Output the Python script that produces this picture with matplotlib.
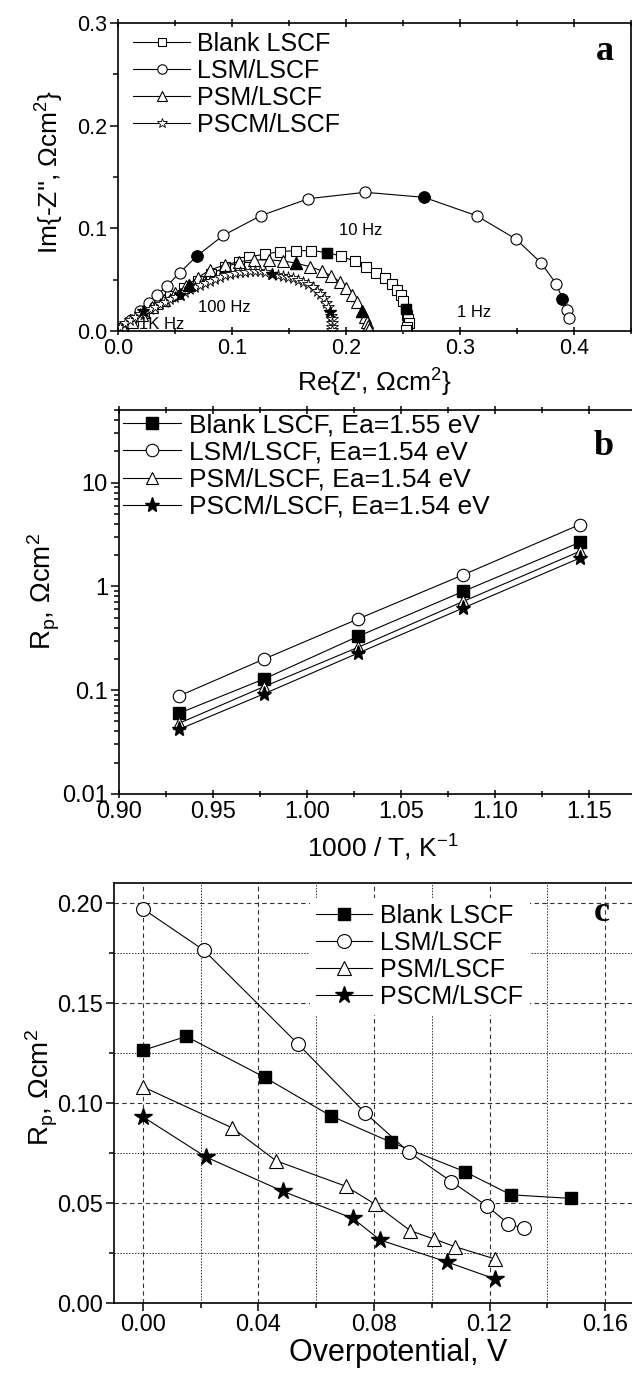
import matplotlib
matplotlib.use("Agg")
import matplotlib.pyplot as plt
from matplotlib.ticker import MultipleLocator, LogLocator, FixedLocator, NullFormatter, FormatStrFormatter

plt.rcParams['font.family'] = ['Liberation Sans', 'DejaVu Sans']
plt.rcParams['mathtext.fontset'] = 'custom'
plt.rcParams['mathtext.rm'] = 'Liberation Sans'
plt.rcParams['mathtext.it'] = 'Liberation Sans:italic'
plt.rcParams['axes.linewidth'] = 1.2

# ---------------- Panel a : Nyquist data ----------------
blank_re = [0.004, 0.013, 0.023, 0.034, 0.046, 0.058, 0.070, 0.082, 0.094, 0.106, 0.115,
            0.129, 0.1425, 0.1565, 0.1697, 0.1834, 0.1953, 0.2076, 0.2178, 0.2266, 0.2339,
            0.2406, 0.2447, 0.2479, 0.2500, 0.2523, 0.2537, 0.2543, 0.2549, 0.2537, 0.2529]
blank_im = [0.003, 0.010, 0.018, 0.026, 0.034, 0.042, 0.049, 0.056, 0.062, 0.067, 0.072,
            0.075, 0.0774, 0.0783, 0.0783, 0.0764, 0.0731, 0.0679, 0.0627, 0.0569, 0.0514,
            0.0458, 0.0400, 0.0351, 0.0296, 0.0211, 0.0156, 0.0114, 0.0081, 0.0042, 0.0010]

lsm_re = [0.004, 0.011, 0.019, 0.027, 0.0346, 0.0428, 0.0541, 0.0691, 0.0925, 0.1252, 0.1671,
          0.2168, 0.2684, 0.3145, 0.3490, 0.3710, 0.3845, 0.3899, 0.3941, 0.3952]
lsm_im = [0.004, 0.011, 0.019, 0.027, 0.0351, 0.0438, 0.0568, 0.0730, 0.0932, 0.1123, 0.1289,
          0.1351, 0.1302, 0.1123, 0.0896, 0.0665, 0.0458, 0.0312, 0.0205, 0.0130]

psm_re = [0.004, 0.012, 0.021, 0.030, 0.040, 0.050, 0.060, 0.070, 0.0806, 0.0937, 0.1063,
          0.1191, 0.1326, 0.1448, 0.1565, 0.1682, 0.1790, 0.1872, 0.1945, 0.2003, 0.2053,
          0.2094, 0.2143, 0.2167, 0.2181, 0.2193, 0.2202]
psm_im = [0.003, 0.009, 0.016, 0.023, 0.030, 0.037, 0.044, 0.052, 0.0595, 0.0644, 0.0676,
          0.0692, 0.0692, 0.0683, 0.0660, 0.0627, 0.0585, 0.0536, 0.0481, 0.0416, 0.0351,
          0.0286, 0.0195, 0.0133, 0.0088, 0.0049, 0.0020]

pscm_re = [0.0018, 0.0061, 0.0105, 0.0149, 0.0193, 0.0237, 0.0280, 0.0324, 0.0368, 0.0412,
           0.0456, 0.0499, 0.0543, 0.0587, 0.0631, 0.0675, 0.0718, 0.0762, 0.0806, 0.0850,
           0.0894, 0.0937, 0.0981, 0.1025, 0.1069, 0.1113, 0.1156, 0.1200, 0.1244, 0.1288,
           0.1355, 0.1405, 0.1448, 0.1492, 0.1536, 0.1580, 0.1624, 0.1667, 0.1711, 0.1746,
           0.1775, 0.1805, 0.1828, 0.1845, 0.1857, 0.1869, 0.1878, 0.1880, 0.1880, 0.1875]
pscm_im = [0.0042, 0.0075, 0.0107, 0.0133, 0.0163, 0.0189, 0.0211, 0.0237, 0.0263, 0.0286,
           0.0309, 0.0335, 0.0358, 0.0380, 0.0406, 0.0426, 0.0449, 0.0471, 0.0491, 0.0510,
           0.0527, 0.0543, 0.0556, 0.0566, 0.0572, 0.0579, 0.0582, 0.0582, 0.0582, 0.0579,
           0.0556, 0.0549, 0.0540, 0.0530, 0.0514, 0.0497, 0.0478, 0.0455, 0.0426, 0.0393,
           0.0358, 0.0319, 0.0276, 0.0231, 0.0189, 0.0146, 0.0114, 0.0081, 0.0042, 0.0010]

# frequency-marked (filled) points
blank_f_re = [0.1834, 0.2523]
blank_f_im = [0.0764, 0.0211]
lsm_f_re = [0.0691, 0.2684, 0.3899]
lsm_f_im = [0.0730, 0.1302, 0.0312]
psm_f_re = [0.062, 0.1565, 0.2143]
psm_f_im = [0.045, 0.0660, 0.0195]
pscm_f_re = [0.022, 0.054, 0.1355, 0.1857]
pscm_f_im = [0.019, 0.035, 0.0556, 0.0189]

freq_text = ["10 Hz", "100 Hz", "1 Hz", "1K Hz"]
freq_x = [0.213, 0.093, 0.312, 0.038]
freq_y = [0.098, 0.023, 0.018, 0.006]

# ---------------- Panel b : Arrhenius ----------------
invT = [0.932, 0.977, 1.027, 1.083, 1.145]
rp_blank = [0.060, 0.128, 0.329, 0.893, 2.65]
rp_lsm = [0.088, 0.199, 0.484, 1.29, 3.93]
rp_psm = [0.048, 0.108, 0.258, 0.715, 2.17]
rp_pscm = [0.042, 0.092, 0.227, 0.618, 1.87]
labels_b = ["Blank LSCF, Ea=1.55 eV", "LSM/LSCF, Ea=1.54 eV",
            "PSM/LSCF, Ea=1.54 eV", "PSCM/LSCF, Ea=1.54 eV"]

# ---------------- Panel c : overpotential ----------------
eta_blank = [0.0, 0.0150, 0.0422, 0.0650, 0.0859, 0.1114, 0.1274, 0.1481]
rc_blank = [0.1263, 0.1333, 0.1128, 0.0936, 0.0804, 0.0657, 0.0541, 0.0523]
eta_lsm = [0.0, 0.0212, 0.0537, 0.0769, 0.0921, 0.1068, 0.1191, 0.1265, 0.1319]
rc_lsm = [0.1971, 0.1763, 0.1295, 0.0951, 0.0754, 0.0607, 0.0485, 0.0397, 0.0373]
eta_psm = [0.0, 0.0310, 0.0461, 0.0702, 0.0804, 0.0925, 0.1009, 0.1082, 0.1219]
rc_psm = [0.1081, 0.0875, 0.0711, 0.0584, 0.0494, 0.0362, 0.0319, 0.0281, 0.0220]
eta_pscm = [0.0, 0.0217, 0.0485, 0.0727, 0.0821, 0.1051, 0.1219]
rc_pscm = [0.0931, 0.0731, 0.0558, 0.0423, 0.0315, 0.0206, 0.0120]
labels_ac = ["Blank LSCF", "LSM/LSCF", "PSM/LSCF", "PSCM/LSCF"]

W, H = 632, 1384
fig = plt.figure(figsize=(W / 100, H / 100), dpi=100)

def style_ticks(ax, size, top=False):
    ax.tick_params(which='both', direction='out', top=False, right=False,
                   labelsize=size, width=1.1, pad=2)
    ax.tick_params(which='major', length=6)
    ax.tick_params(which='minor', length=3.5)
    if top:
        ax.tick_params(which='both', top=True, labeltop=False)
        ax.tick_params(axis='x', which='both', direction='inout')
        ax.tick_params(axis='x', which='major', length=6)
        ax.tick_params(axis='x', which='minor', length=5)

lw = 0.8
# ================= Panel a =================
axA = fig.add_axes([118 / W, 1 - 331 / H, 513 / W, 308 / H])
axA.plot(blank_re, blank_im, '-', color='k', lw=lw, marker='s', ms=7, mfc='white', mec='k', mew=0.8, label=labels_ac[0])
axA.plot(lsm_re, lsm_im, '-', color='k', lw=lw, marker='o', ms=8, mfc='white', mec='k', mew=0.8, label=labels_ac[1])
axA.plot(psm_re, psm_im, '-', color='k', lw=lw, marker='^', ms=8, mfc='white', mec='k', mew=0.8, label=labels_ac[2])
axA.plot(pscm_re, pscm_im, '-', color='k', lw=lw, marker='*', ms=8.5, mfc='white', mec='k', mew=0.6, label=labels_ac[3])
axA.plot(blank_f_re, blank_f_im, 's', color='k', ms=7)
axA.plot(lsm_f_re, lsm_f_im, 'o', color='k', ms=8)
axA.plot(psm_f_re, psm_f_im, '^', color='k', ms=8)
axA.plot(pscm_f_re, pscm_f_im, '*', color='k', ms=9)
for t, x, y in zip(freq_text, freq_x, freq_y):
    axA.text(x, y, t, fontsize=12, ha='center', va='center')
axA.set_xlim(0, 0.45)
axA.set_ylim(0, 0.3)
axA.xaxis.set_major_locator(MultipleLocator(0.1))
axA.xaxis.set_minor_locator(MultipleLocator(0.05))
axA.yaxis.set_major_locator(MultipleLocator(0.1))
axA.yaxis.set_minor_locator(MultipleLocator(0.05))
axA.xaxis.set_major_formatter(FormatStrFormatter('%.1f'))
axA.yaxis.set_major_formatter(FormatStrFormatter('%.1f'))
style_ticks(axA, 15.5, top=True)
axA.set_xlabel("Re{Z', \u03a9cm$^{2}$}", fontsize=19)
axA.set_ylabel("Im{-Z'', \u03a9cm$^{2}$}", fontsize=19)
axA.xaxis.set_label_coords(0.5, -0.115)
axA.yaxis.set_label_coords(-0.101, 0.516)
axA.text(0.949, 0.880, 'a', transform=axA.transAxes, fontsize=26, fontweight='bold',
         family=['Liberation Serif', 'DejaVu Serif'], ha='center', va='baseline')
axA.legend(loc='upper left', bbox_to_anchor=(0.029, 0.972), frameon=False, fontsize=18,
           borderpad=0, borderaxespad=0, handlelength=2.3, handletextpad=0.25,
           labelspacing=0.12, markerscale=0.85)

# ================= Panel b =================
axB = fig.add_axes([119 / W, 1 - 794 / H, 517 / W, 384 / H])
axB.plot(invT, rp_blank, '-', color='k', lw=lw, marker='s', ms=8, mfc='k', mec='k', label=labels_b[0])
axB.plot(invT, rp_lsm, '-', color='k', lw=lw, marker='o', ms=9, mfc='white', mec='k', mew=0.8, label=labels_b[1])
axB.plot(invT, rp_psm, '-', color='k', lw=lw, marker='^', ms=9, mfc='white', mec='k', mew=0.8, label=labels_b[2])
axB.plot(invT, rp_pscm, '-', color='k', lw=lw, marker='*', ms=11, mfc='k', mec='k', label=labels_b[3])
axB.set_yscale('log')
axB.set_xlim(0.9, 1.175)
axB.set_ylim(0.01, 50)
axB.xaxis.set_major_locator(MultipleLocator(0.05))
axB.xaxis.set_minor_locator(MultipleLocator(0.025))
axB.xaxis.set_major_formatter(FormatStrFormatter('%.2f'))
axB.yaxis.set_major_locator(FixedLocator([0.01, 0.1, 1, 10]))
axB.yaxis.set_minor_locator(LogLocator(base=10, subs=range(2, 10)))
axB.yaxis.set_minor_formatter(NullFormatter())
axB.set_yticklabels(['0.01', '0.1', '1', '10'])
style_ticks(axB, 17, top=True)
axB.set_xlabel("1000 / T, K$^{-1}$", fontsize=19)
axB.set_ylabel("R$_\\mathrm{p}$, \u03a9cm$^{2}$", fontsize=20)
axB.xaxis.set_label_coords(0.51, -0.10)
axB.yaxis.set_label_coords(-0.110, 0.527)
axB.text(0.938, 0.883, 'b', transform=axB.transAxes, fontsize=26, fontweight='bold',
         family=['Liberation Serif', 'DejaVu Serif'], ha='center', va='baseline')
axB.legend(loc='upper left', bbox_to_anchor=(0.008, 0.991), frameon=False, fontsize=19,
           borderpad=0, borderaxespad=0, handlelength=2.2, handletextpad=0.3,
           labelspacing=0.12)

# ================= Panel c =================
axC = fig.add_axes([114 / W, 1 - 1303 / H, 520 / W, 420 / H])
axC.set_axisbelow(True)
axC.plot(eta_blank, rc_blank, '-', color='k', lw=lw, marker='s', ms=9, mfc='k', mec='k', label=labels_ac[0])
axC.plot(eta_lsm, rc_lsm, '-', color='k', lw=lw, marker='o', ms=10, mfc='white', mec='k', mew=0.8, label=labels_ac[1])
axC.plot(eta_psm, rc_psm, '-', color='k', lw=lw, marker='^', ms=10, mfc='white', mec='k', mew=0.8, label=labels_ac[2])
axC.plot(eta_pscm, rc_pscm, '-', color='k', lw=lw, marker='*', ms=13, mfc='k', mec='k', label=labels_ac[3])
axC.set_xlim(-0.01, 0.17)
axC.set_ylim(0, 0.21)
axC.xaxis.set_major_locator(MultipleLocator(0.04))
axC.xaxis.set_minor_locator(MultipleLocator(0.02))
axC.yaxis.set_major_locator(MultipleLocator(0.05))
axC.yaxis.set_minor_locator(MultipleLocator(0.025))
axC.xaxis.set_major_formatter(FormatStrFormatter('%.2f'))
axC.yaxis.set_major_formatter(FormatStrFormatter('%.2f'))
axC.grid(which='major', color='#333333', linestyle=(0, (4, 3)), lw=0.8)
axC.grid(which='minor', color='#333333', linestyle=(0, (1.5, 1.5)), lw=0.7)
style_ticks(axC, 17)
axC.set_xlabel("Overpotential, V", fontsize=22)
axC.set_ylabel("R$_\\mathrm{p}$, \u03a9cm$^{2}$", fontsize=20)
axC.xaxis.set_label_coords(0.546, -0.083)
axC.yaxis.set_label_coords(-0.104, 0.514)
axC.text(0.938, 0.910, 'c', transform=axC.transAxes, fontsize=26, fontweight='bold',
         family=['Liberation Serif', 'DejaVu Serif'], ha='center', va='baseline', zorder=5)
legC = axC.legend(loc='upper left', bbox_to_anchor=(0.376, 0.965), frameon=True, fontsize=18,
                  borderpad=0.25, borderaxespad=0, handlelength=2.26, handletextpad=0.32,
                  labelspacing=0.12, fancybox=False, framealpha=1)
legC.get_frame().set_edgecolor('none')
legC.get_frame().set_facecolor('white')

fig.savefig('out.png', dpi=100)
